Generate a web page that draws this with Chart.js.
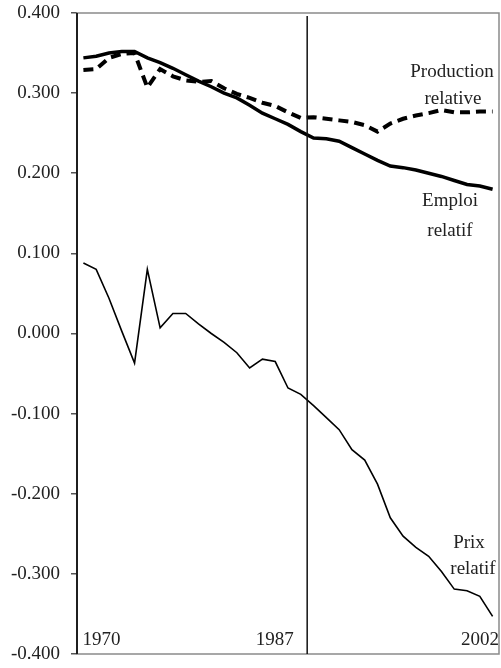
<!DOCTYPE html>
<html>
<head>
<meta charset="utf-8">
<script src="https://cdn.jsdelivr.net/npm/chart.js@4.4.1/dist/chart.umd.min.js"></script>
<style>
  html, body { margin: 0; padding: 0; background: #fff; }
  #wrap { width: 501px; height: 668px; }
</style>
</head>
<body>
<div id="wrap"><canvas id="relChart" width="501" height="668"></canvas></div>
<script>
const years = [];
for (let y = 1970; y <= 2002; y++) years.push(String(y));

const emploiRelatif = [0.344, 0.346, 0.350, 0.352, 0.352, 0.344, 0.338, 0.331, 0.323, 0.315, 0.308, 0.300, 0.294, 0.285, 0.275, 0.268, 0.261, 0.252, 0.244, 0.243, 0.240, 0.232, 0.224, 0.216, 0.209, 0.207, 0.204, 0.200, 0.196, 0.191, 0.186, 0.184, 0.180];
const productionRelative = [0.329, 0.330, 0.344, 0.349, 0.350, 0.307, 0.330, 0.321, 0.316, 0.314, 0.315, 0.306, 0.299, 0.294, 0.288, 0.284, 0.276, 0.269, 0.270, 0.268, 0.266, 0.264, 0.260, 0.252, 0.262, 0.268, 0.272, 0.275, 0.279, 0.276, 0.276, 0.277, 0.277];
const prixRelatif = [0.088, 0.080, 0.044, 0.003, -0.037, 0.080, 0.007, 0.025, 0.025, 0.012, 0.000, -0.011, -0.024, -0.043, -0.032, -0.035, -0.068, -0.076, -0.090, -0.105, -0.120, -0.145, -0.158, -0.188, -0.230, -0.253, -0.267, -0.278, -0.297, -0.319, -0.321, -0.328, -0.353];

const yTicks = [-0.4, -0.3, -0.2, -0.1, 0, 0.1, 0.2, 0.3, 0.4];
const yearMarks = ["1970", "1987", "2002"];
const breakYear = "1987";

const FONT = "'Liberation Serif', 'Times New Roman', serif";

// frame, break line, in-plot year labels and series names
const decorPlugin = {
  id: "decor",
  afterDatasetsDraw(chart) {
    const { ctx, chartArea: a, scales } = chart;
    const x = scales.x;
    ctx.save();

    ctx.strokeStyle = "#8a8a8a";
    ctx.lineWidth = 1.5;
    ctx.strokeRect(a.left, a.top, a.right - a.left, a.bottom - a.top);
    ctx.strokeStyle = "#111";
    ctx.lineWidth = 1.8;
    ctx.beginPath();
    ctx.moveTo(a.left, a.top);
    ctx.lineTo(a.left, a.bottom);
    ctx.stroke();

    const bi = years.indexOf(breakYear);
    const bx = (x.getPixelForValue(bi) + x.getPixelForValue(bi + 1)) / 2;
    ctx.lineWidth = 1.5;
    ctx.beginPath();
    ctx.moveTo(bx, a.top + 3);
    ctx.lineTo(bx, a.bottom);
    ctx.stroke();

    ctx.fillStyle = "#222";
    ctx.font = "19px " + FONT;
    ctx.textBaseline = "alphabetic";
    const base = a.bottom - 9;
    ctx.textAlign = "left";
    ctx.fillText(yearMarks[0], x.getPixelForValue(0) - 1, base);
    ctx.textAlign = "right";
    ctx.fillText(yearMarks[1], x.getPixelForValue(bi) - 7, base);
    ctx.fillText(yearMarks[2], a.right, base);

    ctx.textAlign = "center";
    ctx.fillText("Production", 452, 77);
    ctx.fillText("relative", 453, 104);
    ctx.fillText("Emploi", 450, 206);
    ctx.fillText("relatif", 450, 236);
    ctx.fillText("Prix", 469, 548);
    ctx.fillText("relatif", 473, 574);
    ctx.restore();
  }
};

const ctx = document.getElementById("relChart").getContext("2d");
new Chart(ctx, {
  type: "line",
  data: {
    labels: years,
    datasets: [
      { label: "Production relative", data: productionRelative, borderColor: "#000", borderWidth: 4, borderDash: [10, 6], pointRadius: 0, tension: 0, fill: false },
      { label: "Emploi relatif", data: emploiRelatif, borderColor: "#000", borderWidth: 3.5, pointRadius: 0, tension: 0, fill: false },
      { label: "Prix relatif", data: prixRelatif, borderColor: "#000", borderWidth: 1.6, pointRadius: 0, tension: 0, fill: false },
    ]
  },
  options: {
    responsive: false,
    animation: false,
    devicePixelRatio: 1,
    layout: { padding: { top: 13, right: 2, bottom: 14, left: 0 } },
    plugins: { legend: { display: false }, tooltip: { enabled: false } },
    scales: {
      x: {
        offset: true,
        grid: { display: false },
        border: { display: false },
        ticks: { display: false },
        afterFit(scale) { scale.height = 0; }
      },
      y: {
        min: -0.4,
        max: 0.4,
        afterBuildTicks(scale) { scale.ticks = yTicks.map(v => ({ value: v })); },
        afterFit(scale) {
          scale.width = 77;
          scale.paddingTop = 0;
          scale.paddingBottom = 0;
        },
        grid: { drawOnChartArea: false, tickLength: 6, color: "#555", lineWidth: 1.5 },
        border: { display: false },
        ticks: {
          padding: 11,
          color: "#222",
          font: { family: FONT, size: 19 },
          callback: v => Number(v).toFixed(3)
        }
      }
    }
  },
  plugins: [decorPlugin]
});
</script>
</body>
</html>
